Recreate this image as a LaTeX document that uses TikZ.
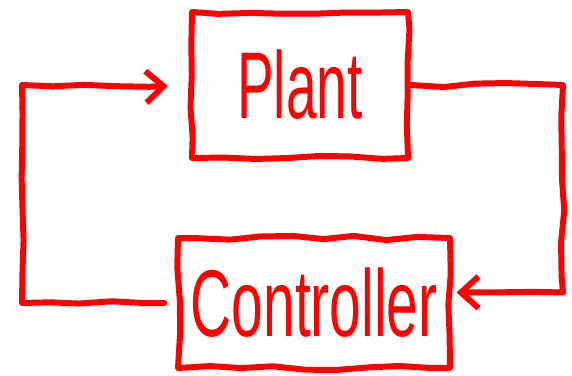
\documentclass[tikz,border=0pt]{standalone}
\usepackage{fontspec}
\setmainfont{Liberation Sans}
\usepackage{graphicx}
\usetikzlibrary{arrows.meta, decorations.pathmorphing}

\definecolor{pen}{RGB}{255,0,0}

\begin{document}
\begin{tikzpicture}[
    sketch/.style={draw=pen, line width=1.7pt, line cap=round, line join=round,
        decorate, decoration={random steps, segment length=9pt, amplitude=0.6pt}},
    blockbox/.style={sketch, minimum width=2.16cm, minimum height=1.46cm, inner sep=0pt},
    loop/.style={sketch, -{Straight Barb[length=5pt, width=9pt, line width=1.7pt]}},
    handtext/.style={text=pen, font=\fontsize{27}{30}\selectfont}
]
\pgfmathsetseed{7}
\useasboundingbox (0,0) rectangle (5.72,3.75);

% blocks
\node[blockbox, handtext] (plant) at (3.00,2.90) {\scalebox{0.58}[1]{Plant}};
\node[blockbox, handtext, minimum width=2.72cm, minimum height=1.30cm] (ctrl) at (3.14,0.72) {\scalebox{0.6}[1]{Controller}};

% feedback loop
\draw[loop, shorten <=3pt, shorten >=6pt] (ctrl.west) -- ++(-1.53,0) |- (plant.west);
\draw[loop, shorten >=1pt] (plant.east) -- ++(1.52,0) |- ([yshift=3pt]ctrl.east);

\end{tikzpicture}
\end{document}
